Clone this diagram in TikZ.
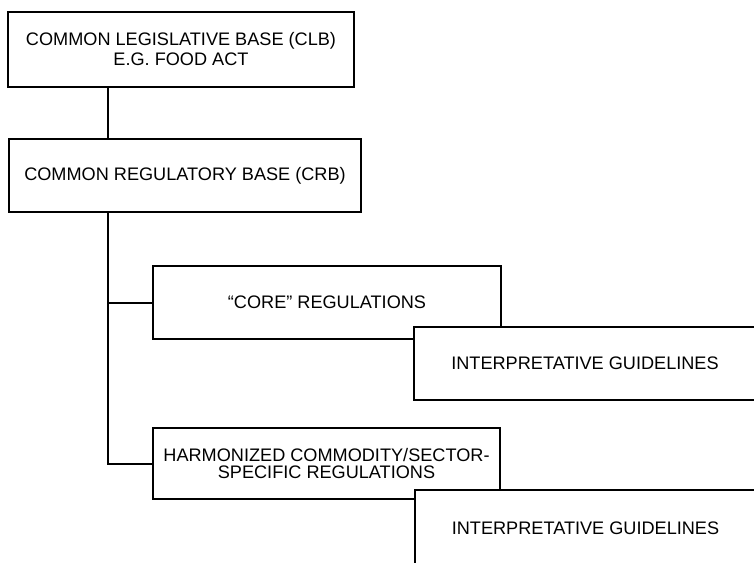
\documentclass[tikz,border=0pt]{standalone}
\usepackage{fontspec}
\setmainfont{Liberation Sans}
\begin{document}
\begin{tikzpicture}[x=0.75pt,y=-0.75pt,
  box/.style={draw=black,fill=white,line width=1.5pt,rectangle,inner sep=0pt,
    align=center,font=\fontsize{13.6}{15}\selectfont},
  link/.style={draw=black,line width=1.5pt}]
\useasboundingbox (0,0) rectangle (754,562);
\node[box,minimum width=259.5pt,minimum height=56.25pt] (clb) at (181,49.5)
  {COMMON LEGISLATIVE BASE (CLB)\\E.G. FOOD ACT};
\node[box,minimum width=264pt,minimum height=54.75pt] (crb) at (185,175.5)
  {COMMON REGULATORY BASE (CRB)};
\node[box,minimum width=261pt,minimum height=54.75pt] (core) at (327,302.5)
  {“CORE” REGULATIONS};
\node[box,minimum width=256.5pt,minimum height=54.75pt] (ig1) at (585,363.5)
  {INTERPRETATIVE GUIDELINES};
\node[box,minimum width=260.25pt,minimum height=53.25pt,
  font=\fontsize{13.6}{13.2}\selectfont] (harm) at (326.5,463.5)
  {HARMONIZED COMMODITY/SECTOR-\\SPECIFIC REGULATIONS};
\node[box,minimum width=255.75pt,minimum height=57pt] (ig2) at (585.5,528)
  {INTERPRETATIVE GUIDELINES};
\coordinate (t) at (108,0);
\draw[link] (clb.south -| t) -- (crb.north -| t);
\draw[link] (crb.south -| t) |- (harm.west);
\draw[link] (core.west) -- (core.west -| t);
\end{tikzpicture}
\end{document}
